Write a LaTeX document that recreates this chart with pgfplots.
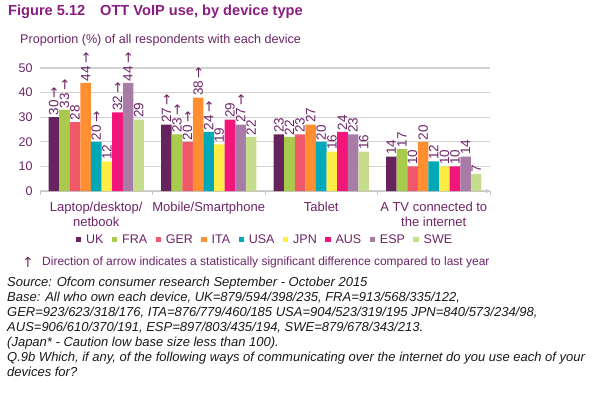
\documentclass[border=0pt]{standalone}
\usepackage{fontspec}
\setmainfont{Liberation Sans}
\newfontfamily\arrowfont{DejaVu Sans}
\usepackage{pgfplots}
\pgfplotsset{compat=1.18}
\definecolor{cUK}{HTML}{66235E}
\definecolor{cFRA}{HTML}{A9CB4C}
\definecolor{cGER}{HTML}{F1596B}
\definecolor{cITA}{HTML}{FF8F30}
\definecolor{cUSA}{HTML}{00A9B8}
\definecolor{cJPN}{HTML}{FFED45}
\definecolor{cAUS}{HTML}{F2167B}
\definecolor{cESP}{HTML}{A87CA6}
\definecolor{cSWE}{HTML}{C6DD8C}
\definecolor{txt}{HTML}{6C2466}
\definecolor{ttl}{HTML}{8A1D80}
\newcommand{\ar}{\,{\arrowfont →}}
\begin{document}
\begin{tikzpicture}[x=1pt,y=1pt]
\path[use as bounding box] (0,0) rectangle (600,392);
\begin{axis}[
  at={(40pt,201pt)}, anchor=south west, scale only axis,
  width=450pt, height=123pt,
  xmin=-0.5, xmax=3.5, ymin=0, ymax=50, clip=false,
  ybar=0pt, bar width=10.6pt,
  axis line style={-},
  axis x line=bottom, axis y line=left,
  x axis line style={draw=gray!45, line width=1pt},
  y axis line style={draw=none},
  major tick length=0pt,
  minor tick length=4pt,
  tick align=outside,
  xtick={0,1,2,3},
  minor xtick={-0.5,0.5,1.5,2.5,3.5},
  minor x tick style={draw=gray!45, line width=1pt},
  xticklabels={Laptop/desktop/\\netbook, Mobile/Smartphone, Tablet, A TV connected to\\the internet},
  xticklabel style={align=center, font=\fontsize{13}{15}\selectfont, text=txt, yshift=-8pt},
  ytick={0,10,20,30,40,50},
  yticklabel style={font=\fontsize{12.5}{13}\selectfont, text=txt, xshift=-4pt},
  /pgf/number format/assume math mode=true,
  ymajorgrids, grid style={draw=gray!35, line width=1.2pt},
  nodes near coords={\pgfplotspointmeta},
  point meta=explicit symbolic,
  every node near coord/.append style={rotate=90, anchor=west, font=\fontsize{13.5}{14}\selectfont, text=txt, inner sep=1.5pt},
  legend columns=9,
  legend image code/.code={\fill[#1] (0pt,-2.6pt) rectangle (5.2pt,2.6pt);},
  legend style={draw=none, fill=none, at={(0.5,-0.395)}, anchor=center,
    font=\fontsize{12.5}{13}\selectfont, text=txt,
    /tikz/every odd column/.append style={column sep=3pt},
    /tikz/every even column/.append style={column sep=6.5pt}},
]
\addplot[fill=cUK, draw=none] coordinates {(0,30)[30\ar] (1,27)[27\ar] (2,23)[23] (3,14)[14]};
\addplot[fill=cFRA, draw=none] coordinates {(0,33)[33\ar] (1,23)[23\ar] (2,22)[22] (3,17)[17]};
\addplot[fill=cGER, draw=none] coordinates {(0,28)[28] (1,20)[20\ar] (2,23)[23] (3,10)[10]};
\addplot[fill=cITA, draw=none] coordinates {(0,44)[44\ar] (1,38)[38\ar] (2,27)[27] (3,20)[20]};
\addplot[fill=cUSA, draw=none] coordinates {(0,20)[20\ar] (1,24)[24\ar] (2,20)[20] (3,12)[12]};
\addplot[fill=cJPN, draw=none] coordinates {(0,12)[12] (1,19)[19] (2,16)[16] (3,10)[10]};
\addplot[fill=cAUS, draw=none] coordinates {(0,32)[32\ar] (1,29)[29] (2,24)[24] (3,10)[10]};
\addplot[fill=cESP, draw=none] coordinates {(0,44)[44\ar] (1,27)[27\ar] (2,23)[23] (3,14)[14]};
\addplot[fill=cSWE, draw=none] coordinates {(0,29)[29] (1,22)[22] (2,16)[16] (3,7)[7]};
\legend{UK,FRA,GER,ITA,USA,JPN,AUS,ESP,SWE}
\end{axis}
\node[anchor=west, inner sep=0, text=ttl, font=\fontsize{14.6}{15}\selectfont\bfseries] at (8,380) {Figure 5.12};
\node[anchor=west, inner sep=0, text=ttl, font=\fontsize{14.6}{15}\selectfont\bfseries] at (100,380) {OTT VoIP use, by device type};
\node[anchor=west, inner sep=0, text=txt, font=\fontsize{12.6}{13}\selectfont] at (20,352) {Proportion (\%) of all respondents with each device};
\node[inner sep=0, text=txt, font=\fontsize{14}{14}\selectfont\arrowfont] at (28,130) {↑};
\node[anchor=west, inner sep=0, text=txt, font=\fontsize{12}{13}\selectfont] at (42,130) {Direction of arrow indicates a statistically significant difference compared to last year};
\node[anchor=north west, inner sep=0, align=left, text=black!90, font=\fontsize{13}{15}\selectfont\itshape] at (7,115) {Source: Ofcom consumer research September - October 2015\\
Base: All who own each device, UK=879/594/398/235, FRA=913/568/335/122,\\
GER=923/623/318/176, ITA=876/779/460/185 USA=904/523/319/195 JPN=840/573/234/98,\\
AUS=906/610/370/191, ESP=897/803/435/194, SWE=879/678/343/213.\\
(Japan* - Caution low base size less than 100).\\
Q.9b Which, if any, of the following ways of communicating over the internet do you use each of your\\
devices for?};
\end{tikzpicture}
\end{document}
